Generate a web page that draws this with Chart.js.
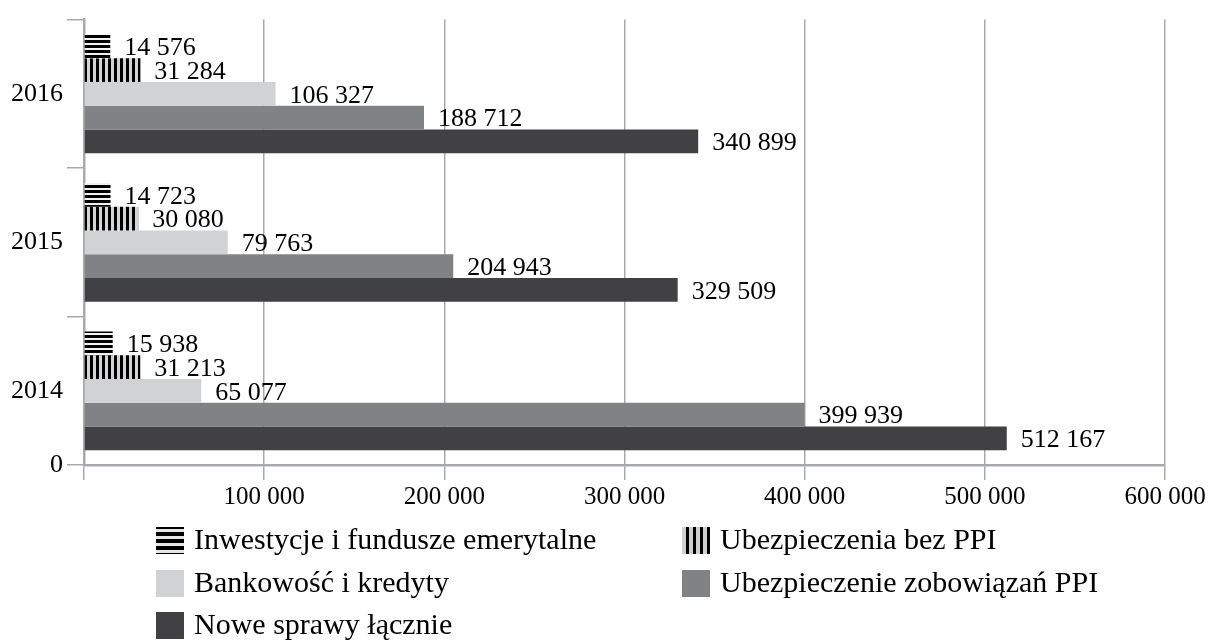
<!DOCTYPE html>
<html>
<head>
<meta charset="utf-8">
<script src="https://cdn.jsdelivr.net/npm/chart.js@4/dist/chart.umd.min.js"></script>
<style>
html,body{margin:0;padding:0;background:#fff;}
#wrap{width:1212px;height:642px;}
</style>
</head>
<body>
<div id="wrap"><canvas id="c" width="1212" height="642"></canvas></div>
<script>
const categories = ['2016', '2015', '2014'];
const seriesNames = [
  'Inwestycje i fundusze emerytalne',
  'Ubezpieczenia bez PPI',
  'Bankowość i kredyty',
  'Ubezpieczenie zobowiązań PPI',
  'Nowe sprawy łącznie'
];
const inwestycje = [14576, 14723, 15938];
const ubezpieczeniaBezPPI = [31284, 30080, 31213];
const bankowosc = [106327, 79763, 65077];
const ubezpieczeniePPI = [188712, 204943, 399939];
const noweSprawy = [340899, 329509, 512167];
const xMin = 0, xMax = 600000, xStep = 100000;
const zeroLabel = '0';

const FONT = '"Liberation Serif", "Times New Roman", serif';
const FS = 26;
const FS_X = 25;
const FS_LEG = 30;
const GRID = '#a7a9ac';

function fmt(v){ return String(v).replace(/\B(?=(\d{3})+(?!\d))/g, ' '); }

function hPattern(period, black, bg){
  const c = document.createElement('canvas');
  c.width = 4; c.height = period;
  const g = c.getContext('2d');
  g.fillStyle = bg; g.fillRect(0,0,4,period);
  g.fillStyle = '#000'; g.fillRect(0,0,4,black);
  return document.getElementById('c').getContext('2d').createPattern(c,'repeat');
}
function vPattern(period, black, bg){
  const c = document.createElement('canvas');
  c.width = period; c.height = 4;
  const g = c.getContext('2d');
  g.fillStyle = bg; g.fillRect(0,0,period,4);
  g.fillStyle = '#000'; g.fillRect(0,0,black,4);
  return document.getElementById('c').getContext('2d').createPattern(c,'repeat');
}

const barFills = [
  hPattern(5, 3, '#f2f2f2'),
  vPattern(6, 3, '#d4d4d4'),
  '#d1d2d4',
  '#808285',
  '#414042'
];
const legendFills = [
  hPattern(7, 4, '#e6e6e6'),
  vPattern(7, 3, '#cfcfcf'),
  '#d1d2d4',
  '#808285',
  '#414042'
];
const seriesValues = [inwestycje, ubezpieczeniaBezPPI, bankowosc, ubezpieczeniePPI, noweSprawy];

const valueLabels = {
  id: 'valueLabels',
  afterDatasetsDraw(chart){
    const ctx = chart.ctx;
    ctx.save();
    ctx.font = FS + 'px ' + FONT;
    ctx.fillStyle = '#000';
    ctx.textAlign = 'left';
    ctx.textBaseline = 'middle';
    chart.data.datasets.forEach((ds, i) => {
      chart.getDatasetMeta(i).data.forEach((bar, j) => {
        ctx.fillText(fmt(ds.data[j]), bar.x + 14, bar.y + 2);
      });
    });
    // stray "0" label at the origin
    ctx.textAlign = 'right';
    ctx.fillText(zeroLabel, 63, chart.chartArea.bottom);
    ctx.restore();
  }
};

const customLegend = {
  id: 'customLegend',
  afterDraw(chart){
    const ctx = chart.ctx;
    const pos = [[156,540],[682,540],[156,583],[682,583],[156,625]];
    ctx.save();
    ctx.font = FS_LEG + 'px ' + FONT;
    ctx.textBaseline = 'middle';
    ctx.textAlign = 'left';
    seriesNames.forEach((name, i) => {
      const [x, y] = pos[i];
      ctx.fillStyle = legendFills[i];
      ctx.fillRect(x, y - 13, 28, 27);
      ctx.fillStyle = '#000';
      ctx.fillText(name, x + 38, y + 1);
    });
    ctx.restore();
  }
};

new Chart(document.getElementById('c'), {
  type: 'bar',
  data: {
    labels: categories,
    datasets: seriesNames.map((n, i) => ({
      label: n,
      data: seriesValues[i],
      backgroundColor: barFills[i],
      borderWidth: 0,
      categoryPercentage: 0.8,
      barPercentage: 1.0
    }))
  },
  options: {
    indexAxis: 'y',
    responsive: false,
    animation: false,
    devicePixelRatio: 1,
    layout: { padding: { top: 18, right: 47, left: 0, bottom: 0 } },
    plugins: { legend: { display: false }, tooltip: { enabled: false } },
    scales: {
      x: {
        min: xMin, max: xMax,
        ticks: {
          stepSize: xStep,
          color: '#000',
          font: { family: FONT, size: FS_X },
          padding: 2,
          maxRotation: 0,
          callback: v => v === 0 ? '' : fmt(v)
        },
        grid: { color: GRID, lineWidth: 1.5, tickLength: 15, drawTicks: true },
        border: { display: true, color: GRID, width: 2.5 },
        afterFit(s){ s.height = 177; }
      },
      y: {
        ticks: {
          color: '#000',
          font: { family: FONT, size: FS },
          padding: 4
        },
        grid: { offset: true, drawOnChartArea: false, color: GRID, lineWidth: 1.5, tickLength: 17 },
        border: { display: true, color: GRID, width: 2.5 },
        afterFit(s){ s.width = 84; }
      }
    }
  },
  plugins: [valueLabels, customLegend]
});
</script>
</body>
</html>
